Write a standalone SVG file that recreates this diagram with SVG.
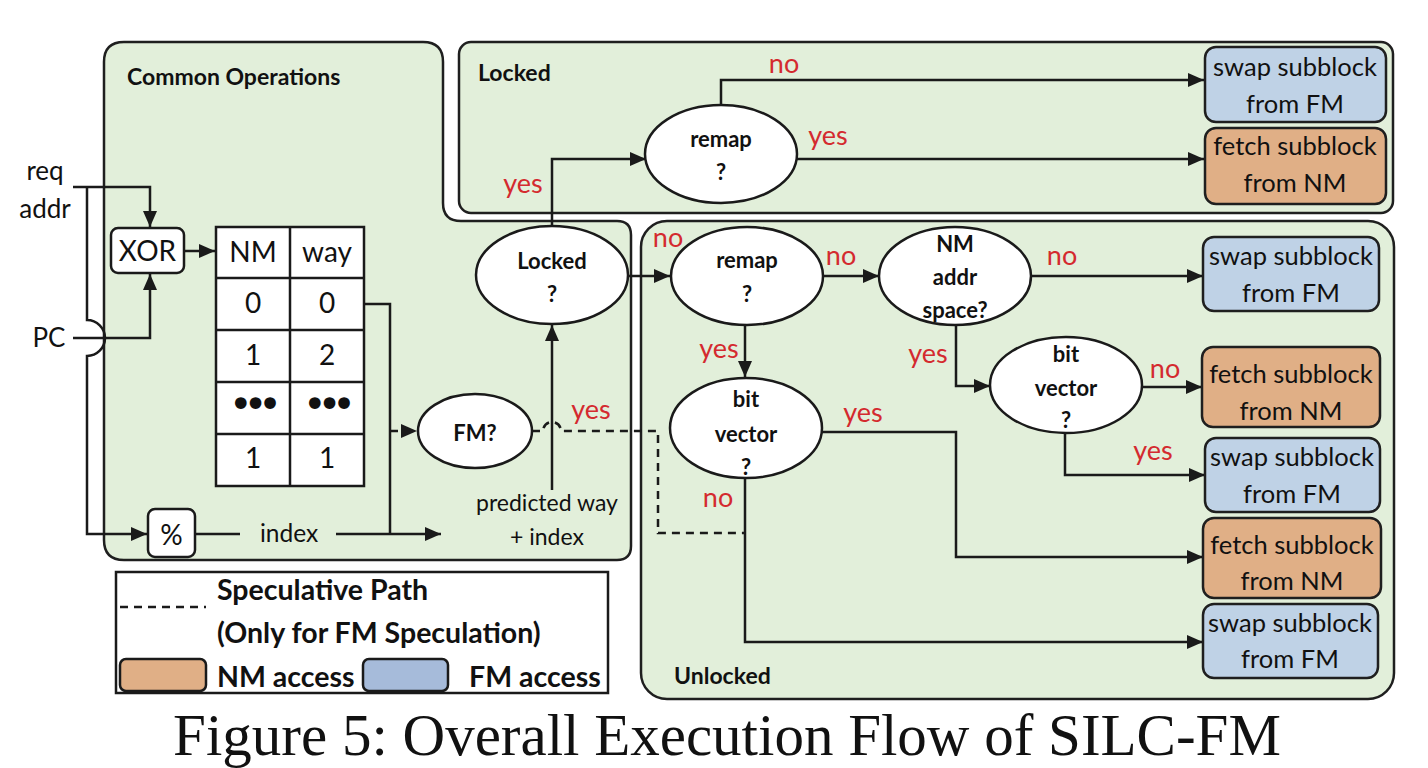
<svg xmlns="http://www.w3.org/2000/svg" width="1428" height="768" viewBox="0 0 1428 768">
<defs>
<marker id="ah" markerUnits="userSpaceOnUse" markerWidth="16" markerHeight="14" refX="16" refY="7" orient="auto"><path d="M0,0 L16,7 L0,14 z" fill="#1a1a1a"/></marker>
<style>
.reg{fill:#E2EFDA;stroke:#1f1f1f;stroke-width:2.5}
.el{fill:#fff;stroke:#1a1a1a;stroke-width:2.5}
.box{stroke:#1f1f1f;stroke-width:2.5}
.fm{fill:#BFD2E6}
.nm{fill:#E0AF86}
.ln{fill:none;stroke:#1a1a1a;stroke-width:2.5}
.ds{fill:none;stroke:#1a1a1a;stroke-width:2.5;stroke-dasharray:8 6}
.t{font-family:Lato,"Open Sans",sans-serif;fill:#111}
.rl{font-family:Lato,"Open Sans",sans-serif;font-weight:bold;fill:#111;font-size:23px}
.b{font-family:Lato,"Open Sans",sans-serif;font-weight:bold;fill:#111;font-size:22px;text-anchor:middle}
.bx{font-family:Lato,"Open Sans",sans-serif;fill:#111;font-size:25.5px;text-anchor:middle}
.r{font-family:Lato,"Open Sans",sans-serif;fill:#D42A2F;font-size:27px;text-anchor:middle}
.tb{font-family:Lato,"Open Sans",sans-serif;fill:#111;font-size:28px;text-anchor:middle}
.dots{font-family:"DejaVu Sans",sans-serif;fill:#111;font-size:40px;letter-spacing:-9px;text-anchor:middle}
.lg{font-family:Lato,"Open Sans",sans-serif;font-weight:bold;fill:#111;font-size:28.5px}
</style>
</defs>
<rect width="1428" height="768" fill="#fff"/>

<g id="region-common">
<path class="reg" d="M124 42 H423 Q443 42 443 62 V203 Q443 221 461 221 H617 Q631 221 631 235 V546 Q631 560 617 560 H124 Q104 560 104 540 V62 Q104 42 124 42 Z"/>
<text class="rl" x="127" y="85">Common Operations</text>
</g>
<g id="region-locked">
<rect class="reg" x="459" y="42" width="934" height="171" rx="12"/>
<text class="rl" x="478" y="81">Locked</text>
</g>
<g id="region-unlocked">
<rect class="reg" x="641" y="221" width="753" height="478" rx="26"/>
<text class="rl" x="674" y="684">Unlocked</text>
</g>

<g id="inputs">
<text class="t" x="45" y="180" font-size="26" text-anchor="middle">req</text>
<text class="t" x="45" y="218" font-size="26" text-anchor="middle">addr</text>
<text class="t" x="49" y="347" font-size="26" text-anchor="middle">PC</text>
</g>

<g id="connectors">
<path class="ln" d="M73 187 H150 V227" marker-end="url(#ah)"/>
<path class="ln" d="M87 187 V320 A18 18 0 0 1 87 356 V534 H147" marker-end="url(#ah)"/>
<path class="ln" d="M73 338 H150 V274" marker-end="url(#ah)"/>
<path class="ln" d="M184 251 H215" marker-end="url(#ah)"/>
<path class="ln" d="M364 304 H390 V534"/>
<path class="ln" d="M195 534 H240"/>
<path class="ln" d="M336 534 H441" marker-end="url(#ah)"/>
<path class="ln" d="M552 490 V325" marker-end="url(#ah)"/>
<path class="ln" d="M552 226 V159 H646" marker-end="url(#ah)"/>
<path class="ln" d="M721 105 V80 H1204" marker-end="url(#ah)"/>
<path class="ln" d="M797 159 H1204" marker-end="url(#ah)"/>
<path class="ln" d="M628 276 H670" marker-end="url(#ah)"/>
<path class="ln" d="M823 276 H879" marker-end="url(#ah)"/>
<path class="ln" d="M1031 276 H1203" marker-end="url(#ah)"/>
<path class="ln" d="M956 325 V386 H990" marker-end="url(#ah)"/>
<path class="ln" d="M1142 387 H1202" marker-end="url(#ah)"/>
<path class="ln" d="M1065 433 V475 H1205" marker-end="url(#ah)"/>
<path class="ln" d="M745 325 V377" marker-end="url(#ah)"/>
<path class="ln" d="M822 432 H956 V557 H1203" marker-end="url(#ah)"/>
<path class="ln" d="M745 478 V642 H1203" marker-end="url(#ah)"/>
<path class="ds" d="M390 431 H417" marker-end="url(#ah)"/>
<path class="ds" d="M532 431 H543 A9 9 0 0 1 561 431 H658 V533 H745"/>
</g>

<g id="labels">
<text class="r" x="784" y="73">no</text>
<text class="r" x="828" y="145">yes</text>
<text class="r" x="523" y="193">yes</text>
<text class="r" x="668" y="247">no</text>
<text class="r" x="841" y="265">no</text>
<text class="r" x="719" y="358">yes</text>
<text class="r" x="863" y="422">yes</text>
<text class="r" x="928" y="363">yes</text>
<text class="r" x="718" y="507">no</text>
<text class="r" x="1062" y="265">no</text>
<text class="r" x="1165" y="378">no</text>
<text class="r" x="1153" y="460">yes</text>
<text class="r" x="591" y="419">yes</text>
<text class="t" x="289" y="542" font-size="24.5" text-anchor="middle">index</text>
<text class="t" x="547" y="511" font-size="23" text-anchor="middle">predicted way</text>
<text class="t" x="547" y="545" font-size="23" text-anchor="middle">+ index</text>
</g>

<g id="xor">
<rect x="111" y="228" width="73" height="45" rx="7" fill="#fff" stroke="#1a1a1a" stroke-width="2.5"/>
<text class="tb" x="147.5" y="261" font-size="27">XOR</text>
</g>
<g id="mod">
<rect x="148" y="509" width="47" height="48" rx="7" fill="#fff" stroke="#1a1a1a" stroke-width="2.5"/>
<text class="tb" x="171.5" y="545" font-size="30">%</text>
</g>

<g id="table">
<rect x="216" y="227" width="148" height="259" fill="#fff" stroke="#1a1a1a" stroke-width="2.5"/>
<path class="ln" d="M290 227 V486 M216 278 H364 M216 330 H364 M216 382 H364 M216 434 H364"/>
<text class="tb" x="253" y="262">NM</text>
<text class="tb" x="327" y="262">way</text>
<text class="tb" x="253" y="313">0</text>
<text class="tb" x="327" y="313">0</text>
<text class="tb" x="253" y="365">1</text>
<text class="tb" x="327" y="365">2</text>
<text class="dots" x="251" y="418">•••</text>
<text class="dots" x="325" y="418">•••</text>
<text class="tb" x="253" y="468">1</text>
<text class="tb" x="327" y="468">1</text>
</g>

<g id="fm-q">
<ellipse class="el" cx="475" cy="431" rx="57" ry="37"/>
<text class="b" x="475" y="441">FM?</text>
</g>
<g id="locked-q">
<ellipse class="el" cx="552" cy="275" rx="76" ry="49"/>
<text class="b" x="552" y="269">Locked</text>
<text class="b" x="552" y="302">?</text>
</g>
<g id="locked-remap">
<ellipse class="el" cx="721" cy="154" rx="76" ry="49"/>
<text class="b" x="721" y="147">remap</text>
<text class="b" x="721" y="180">?</text>
</g>
<g id="unlocked-remap">
<ellipse class="el" cx="747" cy="276" rx="76" ry="49"/>
<text class="b" x="747" y="268">remap</text>
<text class="b" x="747" y="302">?</text>
</g>
<g id="nm-addr">
<ellipse class="el" cx="955" cy="276" rx="76" ry="49"/>
<text class="b" x="955" y="252">NM</text>
<text class="b" x="955" y="285">addr</text>
<text class="b" x="955" y="318">space?</text>
</g>
<g id="bitvec1">
<ellipse class="el" cx="746" cy="428" rx="76" ry="50"/>
<text class="b" x="746" y="407">bit</text>
<text class="b" x="746" y="442">vector</text>
<text class="b" x="746" y="475">?</text>
</g>
<g id="bitvec2">
<ellipse class="el" cx="1066" cy="385" rx="76" ry="48"/>
<text class="b" x="1066" y="362">bit</text>
<text class="b" x="1066" y="396">vector</text>
<text class="b" x="1066" y="428">?</text>
</g>

<g id="box-l-swap">
<rect class="box fm" x="1205" y="47" width="181" height="75" rx="11"/>
<text class="bx" x="1295" y="76">swap subblock</text>
<text class="bx" x="1295" y="113">from FM</text>
</g>
<g id="box-l-fetch">
<rect class="box nm" x="1205" y="128" width="181" height="76" rx="11"/>
<text class="bx" x="1295" y="155">fetch subblock</text>
<text class="bx" x="1295" y="192">from NM</text>
</g>
<g id="box-u-swap1">
<rect class="box fm" x="1203" y="237" width="176" height="74" rx="11"/>
<text class="bx" x="1291" y="265">swap subblock</text>
<text class="bx" x="1291" y="302">from FM</text>
</g>
<g id="box-u-fetch1">
<rect class="box nm" x="1202" y="347" width="178" height="80" rx="11"/>
<text class="bx" x="1291" y="383">fetch subblock</text>
<text class="bx" x="1291" y="420">from NM</text>
</g>
<g id="box-u-swap2">
<rect class="box fm" x="1205" y="438" width="175" height="74" rx="11"/>
<text class="bx" x="1292" y="466">swap subblock</text>
<text class="bx" x="1292" y="503">from FM</text>
</g>
<g id="box-u-fetch2">
<rect class="box nm" x="1203" y="518" width="178" height="80" rx="11"/>
<text class="bx" x="1292" y="554">fetch subblock</text>
<text class="bx" x="1292" y="590">from NM</text>
</g>
<g id="box-u-swap3">
<rect class="box fm" x="1203" y="604" width="175" height="74" rx="11"/>
<text class="bx" x="1290" y="632">swap subblock</text>
<text class="bx" x="1290" y="668">from FM</text>
</g>

<g id="legend">
<rect x="116" y="572" width="492" height="121" fill="#fff" stroke="#1a1a1a" stroke-width="2.5"/>
<path class="ds" d="M120 607 H206"/>
<text class="lg" x="217" y="600">Speculative Path</text>
<text class="lg" x="217" y="643">(Only for FM Speculation)</text>
<rect x="120" y="659" width="86" height="32" rx="6" fill="#E0AF86" stroke="#1a1a1a" stroke-width="2.5"/>
<text class="lg" x="217" y="687">NM access</text>
<rect x="363" y="659" width="85" height="32" rx="6" fill="#A6BBDA" stroke="#1a1a1a" stroke-width="2.5"/>
<text class="lg" x="469" y="687">FM access</text>
</g>

<text x="727" y="755" font-family="Liberation Serif,serif" font-size="59" text-anchor="middle" fill="#111">Figure 5: Overall Execution Flow of SILC-FM</text>
</svg>
